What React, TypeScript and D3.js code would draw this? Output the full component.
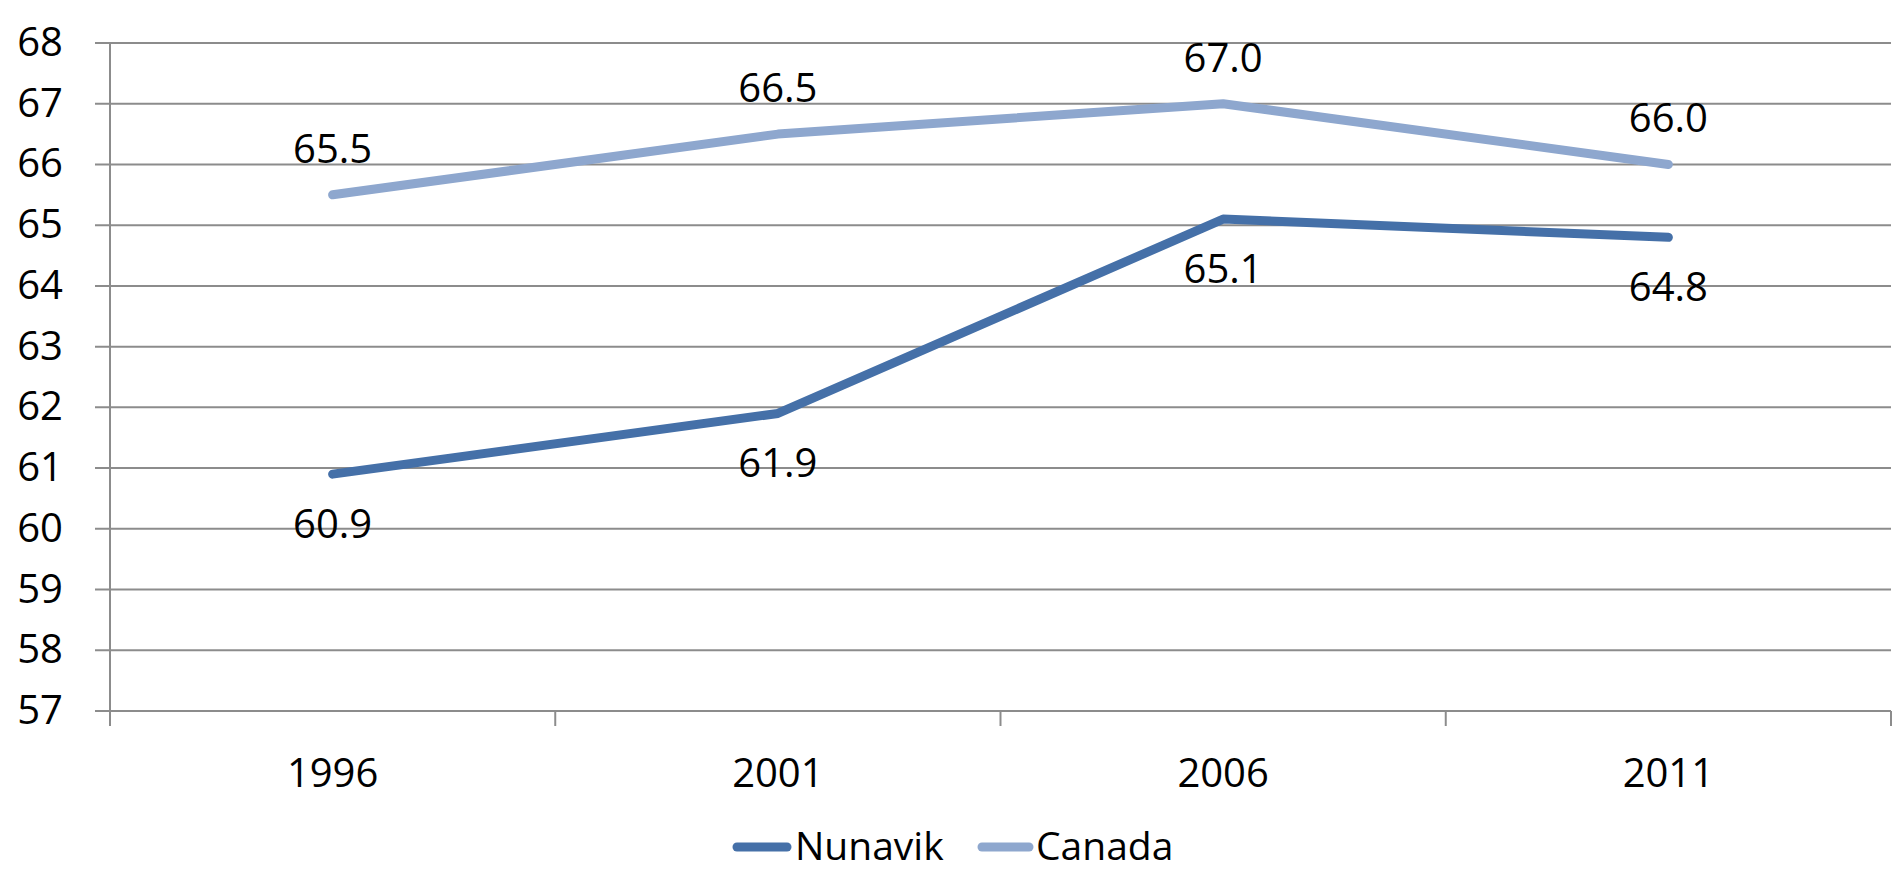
import React from "react";
import * as d3 from "d3";

const categories = ["1996", "2001", "2006", "2011"];
const nunavik = [60.9, 61.9, 65.1, 64.8];
const canada = [65.5, 66.5, 67.0, 66.0];
const yTicks = [57, 58, 59, 60, 61, 62, 63, 64, 65, 66, 67, 68];
const seriesNames = ["Nunavik", "Canada"];
const seriesColors = ["#4570A8", "#8EA7CE"];

const W = 1895;
const H = 874;
const FONT = "'Open Sans', sans-serif";

export default function App() {
  const left = 110;
  const right = 1891;
  const top = 43;
  const bottom = 711;

  const x = d3.scaleBand<string>().domain(categories).range([left, right]);
  const y = d3.scaleLinear().domain([57, 68]).range([bottom, top]);
  const cx = (c: string) => (x(c) as number) + x.bandwidth() / 2;

  const line = d3
    .line<number>()
    .x((_, i) => cx(categories[i]))
    .y((d) => y(d));

  const tickXs = [...categories.map((c) => x(c) as number), right];

  return (
    <svg
      width={W}
      height={H}
      style={{ position: "fixed", left: 0, top: 0, background: "#fff" }}
      fontFamily={FONT}
    >
      {/* gridlines */}
      {yTicks.map((t) => (
        <line key={t} x1={95} x2={right} y1={y(t)} y2={y(t)} stroke="#8c8c8c" strokeWidth={2} />
      ))}
      {/* y axis */}
      <line x1={left} x2={left} y1={top} y2={bottom + 15} stroke="#8c8c8c" strokeWidth={2} />
      {/* x tick marks */}
      {tickXs.map((tx, i) => (
        <line key={i} x1={tx} x2={tx} y1={bottom} y2={bottom + 15} stroke="#8c8c8c" strokeWidth={2} />
      ))}
      {/* y labels */}
      {yTicks.map((t) => (
        <text key={t} x={63} y={y(t) + 13} textAnchor="end" fontSize={40} fill="#000">
          {t}
        </text>
      ))}
      {/* x labels */}
      {categories.map((c) => (
        <text key={c} x={cx(c)} y={787} textAnchor="middle" fontSize={40} fill="#000">
          {c}
        </text>
      ))}
      {/* lines */}
      <path d={line(canada) || ""} fill="none" stroke={seriesColors[1]} strokeWidth={9} strokeLinecap="round" strokeLinejoin="round" />
      <path d={line(nunavik) || ""} fill="none" stroke={seriesColors[0]} strokeWidth={9} strokeLinecap="round" strokeLinejoin="round" />
      {/* data labels */}
      {canada.map((v, i) => (
        <text key={"c" + i} x={cx(categories[i])} y={y(v) - 32} textAnchor="middle" fontSize={40} fill="#000">
          {v.toFixed(1)}
        </text>
      ))}
      {nunavik.map((v, i) => (
        <text key={"n" + i} x={cx(categories[i])} y={y(v) + 64} textAnchor="middle" fontSize={40} fill="#000">
          {v.toFixed(1)}
        </text>
      ))}
      {/* legend */}
      <line x1={737} x2={787} y1={847} y2={847} stroke={seriesColors[0]} strokeWidth={9} strokeLinecap="round" />
      <text x={795} y={860} fontSize={39} fill="#000">{seriesNames[0]}</text>
      <line x1={982} x2={1029} y1={847} y2={847} stroke={seriesColors[1]} strokeWidth={9} strokeLinecap="round" />
      <text x={1036} y={860} fontSize={39} fill="#000">{seriesNames[1]}</text>
    </svg>
  );
}
